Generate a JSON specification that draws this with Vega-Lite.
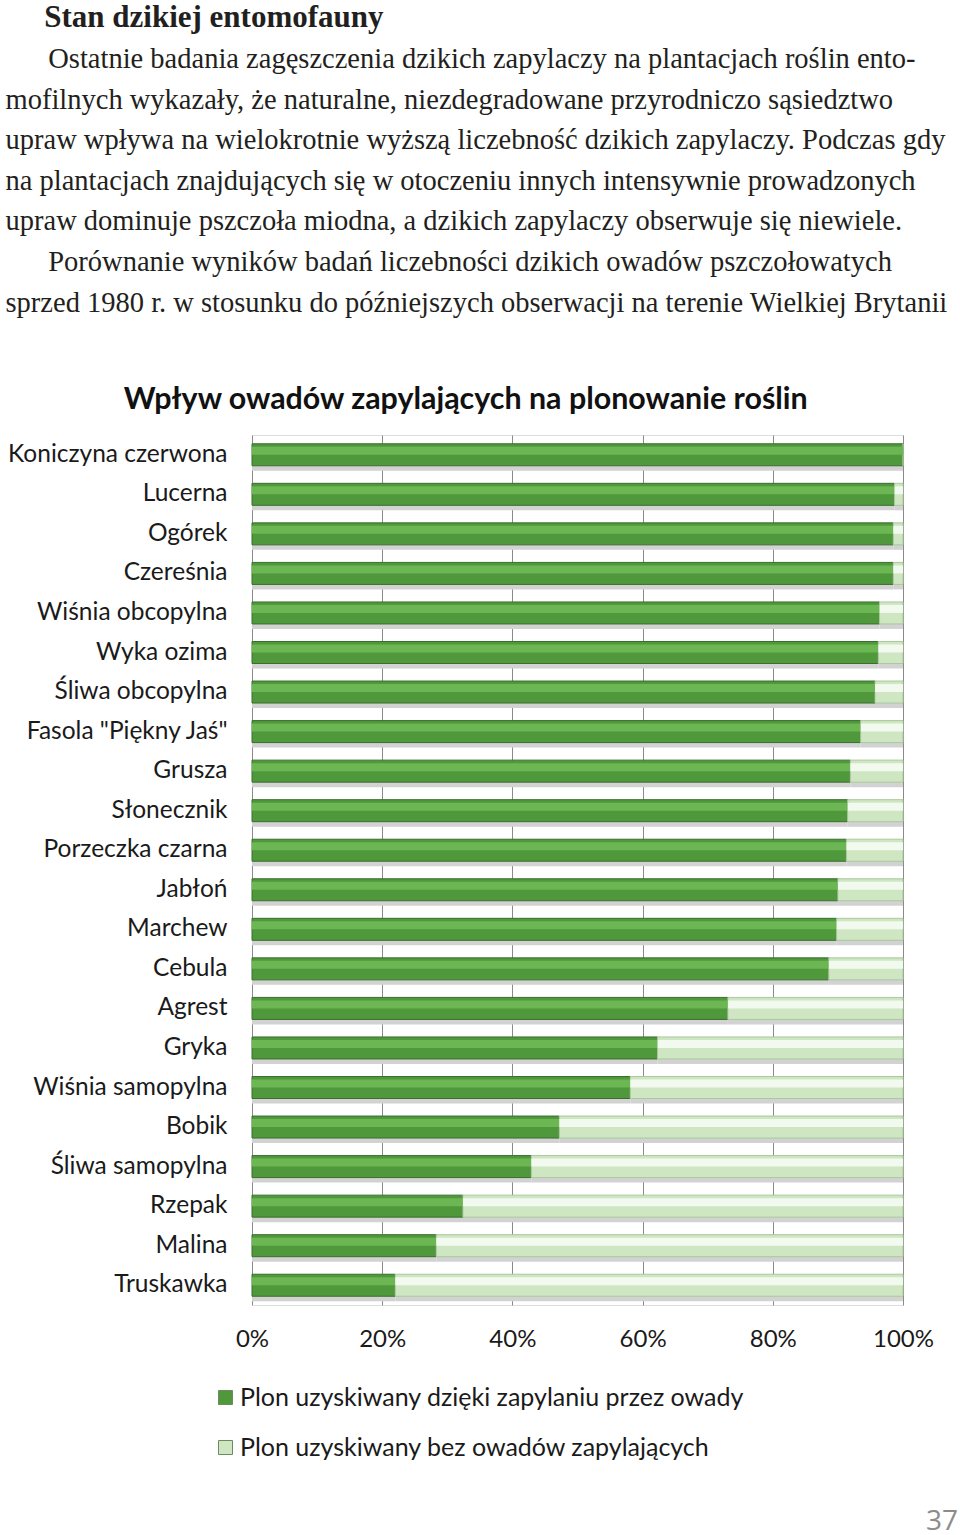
{
  "$schema": "https://vega.github.io/schema/vega-lite/v6.json",
  "background": "white",
  "padding": {"left": 5, "top": 2, "right": 2, "bottom": 0},
  "title": {
    "text": "\u200b\u00a0\u00a0\u00a0\u00a0\u00a0Stan dzikiej entomofauny",
    "subtitle": [
      "\u200b\u00a0\u00a0\u00a0\u00a0\u00a0\u00a0Ostatnie badania zagęszczenia dzikich zapylaczy na plantacjach roślin ento-",
      "mofilnych wykazały, że naturalne, niezdegradowane przyrodniczo sąsiedztwo",
      "upraw wpływa na wielokrotnie wyższą liczebność dzikich zapylaczy. Podczas gdy",
      "na plantacjach znajdujących się w otoczeniu innych intensywnie prowadzonych",
      "upraw dominuje pszczoła miodna, a dzikich zapylaczy obserwuje się niewiele.",
      "\u200b\u00a0\u00a0\u00a0\u00a0\u00a0\u00a0Porównanie wyników badań liczebności dzikich owadów pszczołowatych",
      "sprzed 1980 r. w stosunku do późniejszych obserwacji na terenie Wielkiej Brytanii"
    ],
    "anchor": "start",
    "frame": "bounds",
    "font": "Liberation Serif",
    "fontSize": 31,
    "fontWeight": "bold",
    "color": "#231f20",
    "subtitleFont": "Liberation Serif",
    "subtitleFontSize": 28.5,
    "subtitleColor": "#231f20",
    "subtitleLineHeight": 40.6,
    "subtitlePadding": 11,
    "offset": 66
  },
  "vconcat": [
    {
      "title": {
        "text": "37",
        "orient": "bottom",
        "anchor": "end",
        "font": "Open Sans",
        "fontSize": 28,
        "fontWeight": "normal",
        "color": "#8c8c8c",
        "offset": 156,
        "dx": 24
      },
      "vconcat": [
        {
          "title": {
            "text": "Wpływ owadów zapylających na plonowanie roślin",
            "font": "Lato",
            "fontSize": 30.4,
            "fontWeight": "bold",
            "color": "#111111",
            "anchor": "middle",
            "frame": "bounds",
            "dx": -4,
            "offset": 20
          },
          "width": 651,
          "height": 870,
          "data": {
            "values": [
              {"uprawa": "Koniczyna czerwona", "series": "Plon uzyskiwany dzięki zapylaniu przez owady", "value": 100},
              {"uprawa": "Koniczyna czerwona", "series": "Plon uzyskiwany bez owadów zapylających", "value": 0},
              {"uprawa": "Lucerna", "series": "Plon uzyskiwany dzięki zapylaniu przez owady", "value": 98.7},
              {"uprawa": "Lucerna", "series": "Plon uzyskiwany bez owadów zapylających", "value": 1.3},
              {"uprawa": "Ogórek", "series": "Plon uzyskiwany dzięki zapylaniu przez owady", "value": 98.5},
              {"uprawa": "Ogórek", "series": "Plon uzyskiwany bez owadów zapylających", "value": 1.5},
              {"uprawa": "Czereśnia", "series": "Plon uzyskiwany dzięki zapylaniu przez owady", "value": 98.5},
              {"uprawa": "Czereśnia", "series": "Plon uzyskiwany bez owadów zapylających", "value": 1.5},
              {"uprawa": "Wiśnia obcopylna", "series": "Plon uzyskiwany dzięki zapylaniu przez owady", "value": 96.4},
              {"uprawa": "Wiśnia obcopylna", "series": "Plon uzyskiwany bez owadów zapylających", "value": 3.6},
              {"uprawa": "Wyka ozima", "series": "Plon uzyskiwany dzięki zapylaniu przez owady", "value": 96.2},
              {"uprawa": "Wyka ozima", "series": "Plon uzyskiwany bez owadów zapylających", "value": 3.8},
              {"uprawa": "Śliwa obcopylna", "series": "Plon uzyskiwany dzięki zapylaniu przez owady", "value": 95.7},
              {"uprawa": "Śliwa obcopylna", "series": "Plon uzyskiwany bez owadów zapylających", "value": 4.3},
              {"uprawa": "Fasola \"Piękny Jaś\"", "series": "Plon uzyskiwany dzięki zapylaniu przez owady", "value": 93.5},
              {"uprawa": "Fasola \"Piękny Jaś\"", "series": "Plon uzyskiwany bez owadów zapylających", "value": 6.5},
              {"uprawa": "Grusza", "series": "Plon uzyskiwany dzięki zapylaniu przez owady", "value": 91.9},
              {"uprawa": "Grusza", "series": "Plon uzyskiwany bez owadów zapylających", "value": 8.1},
              {"uprawa": "Słonecznik", "series": "Plon uzyskiwany dzięki zapylaniu przez owady", "value": 91.5},
              {"uprawa": "Słonecznik", "series": "Plon uzyskiwany bez owadów zapylających", "value": 8.5},
              {"uprawa": "Porzeczka czarna", "series": "Plon uzyskiwany dzięki zapylaniu przez owady", "value": 91.3},
              {"uprawa": "Porzeczka czarna", "series": "Plon uzyskiwany bez owadów zapylających", "value": 8.7},
              {"uprawa": "Jabłoń", "series": "Plon uzyskiwany dzięki zapylaniu przez owady", "value": 90.0},
              {"uprawa": "Jabłoń", "series": "Plon uzyskiwany bez owadów zapylających", "value": 10.0},
              {"uprawa": "Marchew", "series": "Plon uzyskiwany dzięki zapylaniu przez owady", "value": 89.8},
              {"uprawa": "Marchew", "series": "Plon uzyskiwany bez owadów zapylających", "value": 10.2},
              {"uprawa": "Cebula", "series": "Plon uzyskiwany dzięki zapylaniu przez owady", "value": 88.6},
              {"uprawa": "Cebula", "series": "Plon uzyskiwany bez owadów zapylających", "value": 11.4},
              {"uprawa": "Agrest", "series": "Plon uzyskiwany dzięki zapylaniu przez owady", "value": 73.1},
              {"uprawa": "Agrest", "series": "Plon uzyskiwany bez owadów zapylających", "value": 26.9},
              {"uprawa": "Gryka", "series": "Plon uzyskiwany dzięki zapylaniu przez owady", "value": 62.3},
              {"uprawa": "Gryka", "series": "Plon uzyskiwany bez owadów zapylających", "value": 37.7},
              {"uprawa": "Wiśnia samopylna", "series": "Plon uzyskiwany dzięki zapylaniu przez owady", "value": 58.1},
              {"uprawa": "Wiśnia samopylna", "series": "Plon uzyskiwany bez owadów zapylających", "value": 41.9},
              {"uprawa": "Bobik", "series": "Plon uzyskiwany dzięki zapylaniu przez owady", "value": 47.2},
              {"uprawa": "Bobik", "series": "Plon uzyskiwany bez owadów zapylających", "value": 52.8},
              {"uprawa": "Śliwa samopylna", "series": "Plon uzyskiwany dzięki zapylaniu przez owady", "value": 42.9},
              {"uprawa": "Śliwa samopylna", "series": "Plon uzyskiwany bez owadów zapylających", "value": 57.1},
              {"uprawa": "Rzepak", "series": "Plon uzyskiwany dzięki zapylaniu przez owady", "value": 32.4},
              {"uprawa": "Rzepak", "series": "Plon uzyskiwany bez owadów zapylających", "value": 67.6},
              {"uprawa": "Malina", "series": "Plon uzyskiwany dzięki zapylaniu przez owady", "value": 28.3},
              {"uprawa": "Malina", "series": "Plon uzyskiwany bez owadów zapylających", "value": 71.7},
              {"uprawa": "Truskawka", "series": "Plon uzyskiwany dzięki zapylaniu przez owady", "value": 22.0},
              {"uprawa": "Truskawka", "series": "Plon uzyskiwany bez owadów zapylających", "value": 78.0}
            ]
          },
          "encoding": {
            "y": {
              "field": "uprawa",
              "type": "nominal",
              "sort": null,
              "scale": {"paddingInner": 0, "paddingOuter": 0},
              "axis": {
                "title": null,
                "domain": false,
                "ticks": false,
                "grid": false,
                "labelFont": "Lato",
                "labelFontSize": 24.5,
                "labelColor": "#1a1a1a",
                "labelPadding": 25,
                "labelLimit": 300,
                "minExtent": 246,
                "maxExtent": 246
              }
            },
            "x": {
              "field": "value",
              "type": "quantitative",
              "stack": "zero",
              "scale": {"domain": [0, 100], "nice": false},
              "axis": {
                "title": null,
                "values": [0, 20, 40, 60, 80, 100],
                "labelExpr": "datum.value + '%'",
                "labelFlush": false,
                "domain": false,
                "ticks": false,
                "grid": true,
                "gridColor": "#8a8a8a",
                "gridWidth": 1,
                "gridOpacity": 1,
                "labelFont": "Lato",
                "labelFontSize": 24,
                "labelColor": "#1a1a1a",
                "labelPadding": 22
              }
            },
            "detail": {"field": "series"},
            "order": {"field": "series", "sort": "descending"}
          },
          "layer": [
            {
              "mark": {"type": "bar", "height": 14, "yOffset": 9, "color": "#d2d2d2"}
            },
            {
              "mark": {"type": "bar", "height": 22, "strokeWidth": 1},
              "encoding": {
                "color": {
                  "field": "series",
                  "type": "nominal",
                  "scale": {
                    "domain": ["Plon uzyskiwany dzięki zapylaniu przez owady", "Plon uzyskiwany bez owadów zapylających"],
                    "range": ["#4f983c", "#cfe6c2"]
                  },
                  "legend": {
                    "title": null,
                    "orient": "none",
                    "legendX": -39,
                    "legendY": 950,
                    "direction": "vertical",
                    "symbolType": "square",
                    "symbolSize": 196,
                    "symbolStrokeColor": "#6d8a60",
                    "symbolStrokeWidth": 1,
                    "labelFont": "Lato",
                    "labelFontSize": 25,
                    "labelColor": "#1a1a1a",
                    "labelLimit": 800,
                    "labelOffset": 2,
                    "rowPadding": 24
                  }
                },
                "stroke": {
                  "condition": {"test": "datum.series === 'Plon uzyskiwany dzięki zapylaniu przez owady'", "value": "#3a6e2d"},
                  "value": "#aac99c"
                }
              }
            },
            {
              "mark": {"type": "bar", "height": 8, "yOffset": -4},
              "encoding": {
                "color": {
                  "condition": {"test": "datum.series === 'Plon uzyskiwany dzięki zapylaniu przez owady'", "value": "#6cb653"},
                  "value": "#f2f9ee"
                }
              }
            }
          ]
        }
      ]
    }
  ]
}
